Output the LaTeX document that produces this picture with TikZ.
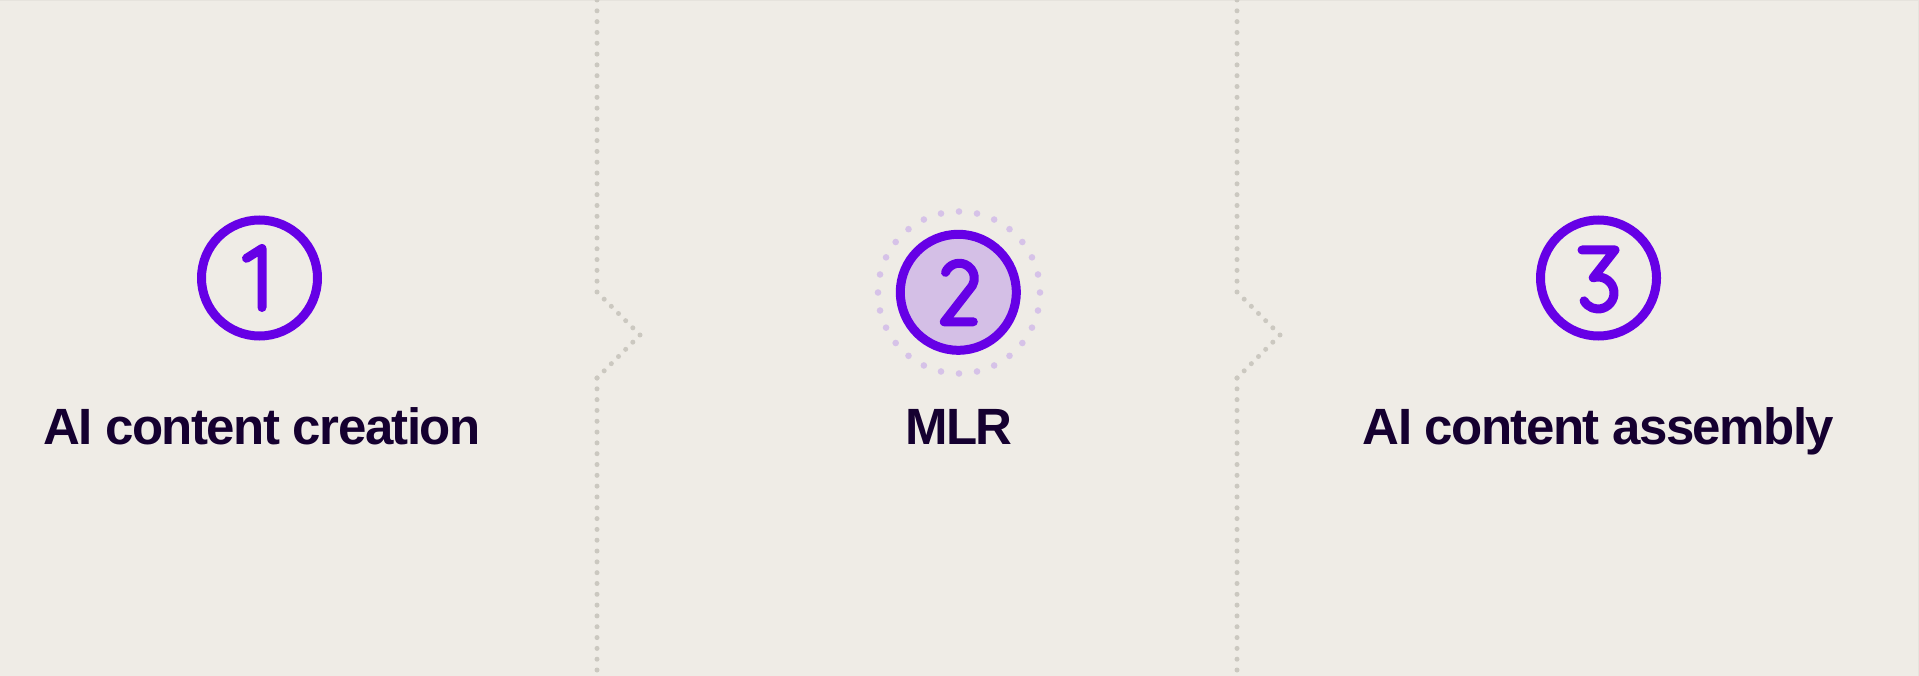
\documentclass[tikz,border=0pt]{standalone}
\usepackage{fontspec}
\setmainfont{Liberation Sans}[LetterSpace=-3]
\definecolor{bg}{HTML}{EFECE6}
\definecolor{edge}{HTML}{E6E3DD}
\definecolor{vio}{HTML}{6600E6}
\definecolor{lilac}{HTML}{D4BFE6}
\definecolor{ringc}{HTML}{D6C2E8}
\definecolor{ink}{HTML}{150030}
\definecolor{sepc}{HTML}{CBC8C0}
\begin{document}
\begin{tikzpicture}[x=1pt,y=-1pt,
  ring/.style={circle, draw=vio, line width=9pt, minimum size=116pt, inner sep=0pt},
  digit/.style={draw=vio, line width=9pt, line cap=round, line join=round},
  lbl/.style={anchor=base, text=ink, inner sep=0pt, font=\fontsize{51}{51}\selectfont\bfseries},
  sepv/.style={draw=sepc, line width=5pt, line cap=round, dash pattern=on 0pt off 10.815pt},
  sepd/.style={draw=sepc, line width=5pt, line cap=round, dash pattern=on 0pt off 10.135pt},
  ringdot/.style={fill=ringc}]
\useasboundingbox (0,0) rectangle (1919,676);
\fill[bg] (0,0) rectangle (1919,676);
\draw[edge, line width=1.5pt] (0,0.75) -- (1918.25,0.75) -- (1918.25,676);

% separators
\coordinate (s1t) at (597,0);
\coordinate (s1a) at (597,292);
\coordinate (s1p) at (640,335);
\coordinate (s1b) at (597,378);
\coordinate (s1e) at (597,690);
\draw[sepv] (s1t) -- (s1a);
\draw[sepd] (s1a) -- (s1p) -- (s1b);
\draw[sepv] (s1b) -- (s1e);
\coordinate (s2t) at (1237,0);
\coordinate (s2a) at (1237,292);
\coordinate (s2p) at (1280,335);
\coordinate (s2b) at (1237,378);
\coordinate (s2e) at (1237,690);
\draw[sepv] (s2t) -- (s2a);
\draw[sepd] (s2a) -- (s2p) -- (s2b);
\draw[sepv] (s2b) -- (s2e);

% step 1
\node[ring] (c1) at (259.5,278) {};
\draw[digit, shift={(c1.center)}] (-13,-19.7) -- (2.5,-29.5) -- (2.5,29.5);
\node[lbl] (t1) at (262,444) {AI content creation};

% step 2
\foreach \i in {0,...,27}
  \fill[ringdot, shift={(959,292.5)}] (\i*360/28:81) circle[radius=3.3];
\node[ring, fill=lilac] (c2) at (958.3,292.3) {};
\draw[digit, shift={(c2.center)}] (-12.8,-19.9) arc[start angle=203, end angle=390, radius=15] -- (-14,29.5) -- (15,29.5);
\node[lbl] (t2) at (959,444) {MLR};

% step 3
\node[ring] (c3) at (1598.5,278) {};
\draw[digit, shift={(c3.center)}] (-16.5,-28) -- (16.5,-28) -- (-5.28,-0.27) arc[start angle=252.6, end angle=510.6, radius=16];
\node[lbl] (t3) at (1598.5,444) {AI content assembly};
\end{tikzpicture}
\end{document}
